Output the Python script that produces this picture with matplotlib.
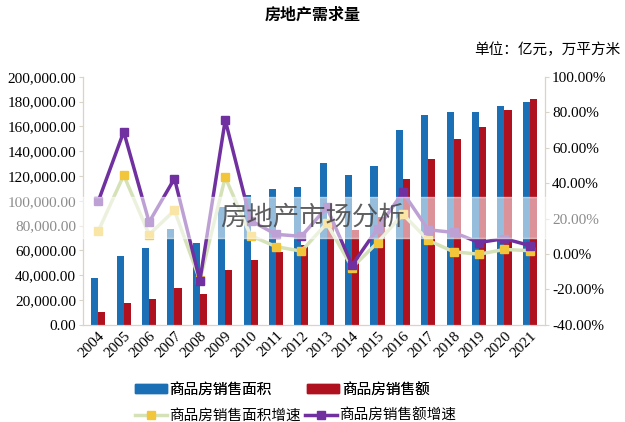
import matplotlib
matplotlib.use("Agg")
import matplotlib.pyplot as plt
import matplotlib.patches as mpatches
from matplotlib.ticker import FuncFormatter
import numpy as np

plt.rcParams['font.family'] = ['serif']
plt.rcParams['font.serif'] = ['Liberation Serif', 'DejaVu Serif']

# data
years = [str(y) for y in range(2004, 2022)]
area = [38232, 55486, 61857, 77355, 65970, 94755, 104765, 109367, 111304,
        130551, 120649, 128495, 157349, 169408, 171654, 171558, 176086, 179433]
sales = [10376, 17576, 20826, 29889, 25068, 44355, 52721, 58589, 64456,
         81428, 76292, 87281, 117627, 133701, 149973, 159725, 173613, 181930]
area_growth = [13.0, 44.5, 11.0, 24.6, -14.7, 43.3, 10.4, 4.2, 1.6,
               17.3, -7.6, 6.5, 22.5, 7.7, 1.3, -0.1, 2.6, 1.9]
sales_growth = [29.9, 69.0, 18.0, 42.6, -15.0, 75.6, 18.9, 11.1, 10.0,
                26.3, -6.3, 14.4, 34.8, 13.7, 12.2, 6.5, 8.7, 4.8]

c_blue = '#1a6fb5'
c_red = '#b0111e'
c_yline = '#d5e2b8'
c_ymark = '#f2c63a'
c_purple = '#7030a0'
cjk = ['Noto Sans CJK SC', 'DejaVu Sans']

fig = plt.figure(figsize=(6.25, 4.22), dpi=100)
ax = fig.add_axes([0.133, 0.230, 0.739, 0.588])
ax2 = ax.twinx()

x = np.arange(len(years))
w = 0.28
ax.bar(x - w / 2, area, w, color=c_blue, zorder=2)
ax.bar(x + w / 2, sales, w, color=c_red, zorder=2)
ax.set_ylim(0, 200000)
ax.set_yticks(np.arange(0, 200001, 20000))
ax.yaxis.set_major_formatter(FuncFormatter(lambda v, p: f"{v:,.2f}"))
ax.set_xlim(-0.6, len(years) - 0.4)
ax.set_xticks(x)
ax.set_xticklabels(years, rotation=45, ha='right', rotation_mode='anchor')

ax2.plot(x, area_growth, color=c_yline, lw=2.5, marker='s', ms=6,
         mfc=c_ymark, mec=c_ymark, zorder=3)
ax2.plot(x, sales_growth, color=c_purple, lw=2.5, marker='s', ms=6,
         mfc=c_purple, mec=c_purple, zorder=4)
ax2.set_ylim(-40, 100)
ax2.set_yticks(np.arange(-40, 101, 20))
ax2.yaxis.set_major_formatter(FuncFormatter(lambda v, p: f"{v:.2f}%"))

for a in (ax, ax2):
    a.tick_params(labelsize=11, length=3, color='#d9d4c5', pad=2)
    for s in a.spines.values():
        s.set_color('#d9d4c5')
    a.spines['top'].set_visible(False)
ax.set_zorder(ax2.get_zorder() - 1)
ax2.patch.set_visible(False)
ax.tick_params(axis='x', labelsize=11, length=0, pad=3)

fig.text(0.5, 0.966, '房地产需求量', ha='center', va='center', fontsize=11.5,
         fontweight='bold', family=cjk)
fig.text(0.993, 0.882, '单位：亿元，万平方米', ha='right', va='center',
         fontsize=10.5, family=cjk)

# legend, two rows laid out separately like the original
h_area = mpatches.Patch(color=c_blue, label='商品房销售面积')
h_sales = mpatches.Patch(color=c_red, label='商品房销售额')
h_ag = plt.Line2D([], [], color=c_yline, lw=2.5, marker='s', ms=6,
                  mfc=c_ymark, mec=c_ymark, label='商品房销售面积增速')
h_sg = plt.Line2D([], [], color=c_purple, lw=2.5, marker='s', ms=6,
                  mfc=c_purple, mec=c_purple, label='商品房销售额增速')
leg_kw = dict(loc='center left', frameon=False, ncol=2,
              prop={'family': cjk, 'size': 10.5}, borderpad=0,
              borderaxespad=0, handlelength=2.2, handleheight=0.55,
              handletextpad=0.15)
leg1 = fig.legend(handles=[h_area, h_sales], bbox_to_anchor=(0.216, 1 - 390 / 422),
                  columnspacing=2.45, **leg_kw)
fig.add_artist(leg1)
fig.legend(handles=[h_ag, h_sg], bbox_to_anchor=(0.216, 1 - 416 / 422),
           columnspacing=0.3, **leg_kw)

# watermark band
fig.patches.append(mpatches.Rectangle((0, 1 - 238 / 422), 1, 41 / 422,
                                      transform=fig.transFigure,
                                      color='white', alpha=0.55, zorder=10))
fig.text(0.5, 1 - 218 / 422, '房地产市场分析', ha='center', va='center',
         fontsize=19, color='#444444', alpha=0.85, zorder=11,
         family=cjk, fontweight='light')

fig.savefig('out.png', dpi=100)
